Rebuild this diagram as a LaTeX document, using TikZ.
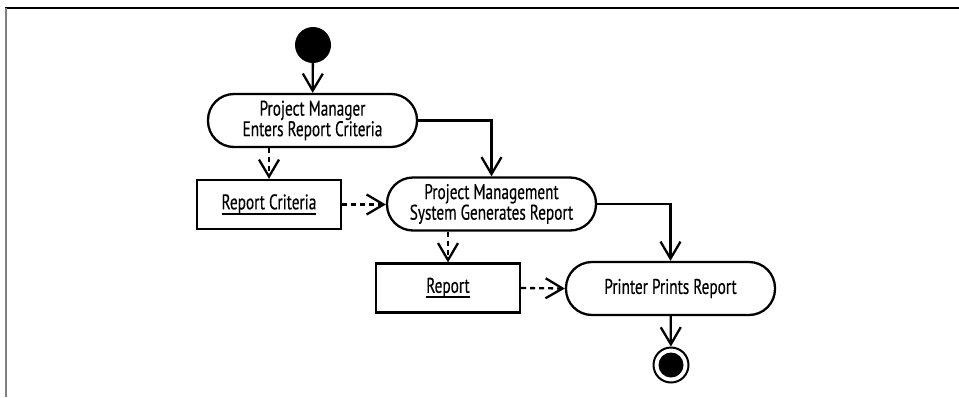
\documentclass[tikz,border=0pt]{standalone}
\usepackage{fontspec}
\setmainfont[FakeStretch=0.72, FakeBold=0.4]{PT Sans}
\usetikzlibrary{arrows.meta}

% object names carry a heavy underline
\newsavebox\objnamebox
\newcommand\objname[1]{%
  \sbox\objnamebox{#1}%
  \rlap{\rule[-5.5pt]{\wd\objnamebox}{2.2pt}}\usebox\objnamebox}

\tikzset{
  flow/.style={line width=2.3pt, -{Straight Barb[length=17pt, width=20pt, line width=2.3pt]}},
  objflow/.style={flow, dash pattern=on 5pt off 4pt},
  action/.style={draw, line width=2.3pt, rounded corners=26pt, align=center,
    minimum width=209pt, minimum height=53pt, inner sep=0pt,
    font=\fontsize{21.2}{18}\selectfont},
  objbox/.style={draw, line width=2.3pt, minimum width=144pt, minimum height=49pt,
    inner sep=0pt, font=\fontsize{21.2}{18}\selectfont},
  startnode/.style={circle, fill=black, minimum size=36pt, inner sep=0pt},
  endnode/.style={circle, draw, line width=2pt, minimum size=35pt, inner sep=0pt,
    path picture={\fill (path picture bounding box.center) circle (12.5pt);}}
}

\begin{document}
\begin{tikzpicture}[x=1pt, y=-1pt]
  \useasboundingbox (0,0) rectangle (959,397);

  % frame
  \draw[line width=1.5pt] (5,8) -- (959,8);
  \draw[line width=1.8pt, gray] (6,8) -- (6,397);

  % nodes
  \node[startnode] (start) at (313,45) {};
  \node[action] (enter) at (312.5,120.5) {Project Manager\\Enters Report Criteria};
  \node[objbox] (criteria) at (269,204.5) {\objname{Report Criteria}};
  \node[action] (generate) at (491.5,204) {Project Management\\System Generates Report};
  \node[objbox] (report) at (448,288) {\objname{Report}};
  \node[action] (print) at (670.5,288.5) {Printer Prints Report};
  \node[endnode] (final) at (671,365) {};

  % control flow
  \draw[flow] (start) -- (enter);
  \draw[flow] (enter.east) -| (generate.north);
  \draw[flow] (generate.east) -| (print.north);
  \draw[flow] (print) -- (final);

  % object flow
  \draw[objflow] (criteria.north |- enter.south) -- (criteria.north);
  \draw[objflow] (criteria.east) -- (criteria.east -| generate.west);
  \draw[objflow] (report.north |- generate.south) -- (report.north);
  \draw[objflow] (report.east) -- (print.west);
\end{tikzpicture}
\end{document}
